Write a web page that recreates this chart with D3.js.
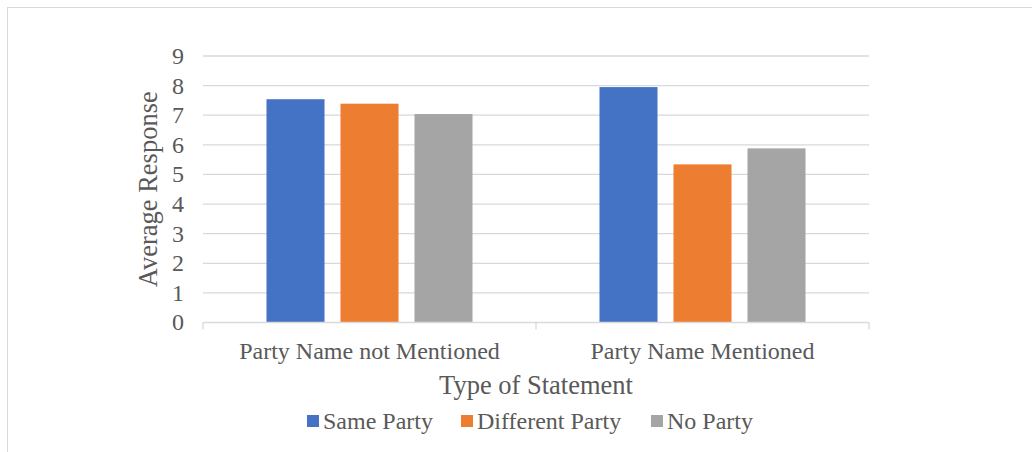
<!DOCTYPE html>
<html>
<head>
<meta charset="utf-8">
<script src="https://cdn.jsdelivr.net/npm/d3@7"></script>
<style>
  body { margin: 0; background: #fff; }
  text { font-family: "Liberation Serif", "Times New Roman", serif; fill: #595959; }
</style>
</head>
<body>
<svg id="chart" width="1032" height="452"></svg>
<script>
const categories = ['Party Name not Mentioned', 'Party Name Mentioned']
const seriesNames = ['Same Party', 'Different Party', 'No Party']
const sameParty = [7.54, 7.95]
const differentParty = [7.39, 5.34]
const noParty = [7.04, 5.88]
const yTicks = [0, 1, 2, 3, 4, 5, 6, 7, 8, 9]

const colors = ['#4472c4', '#ed7d31', '#a5a5a5']
const seriesValues = [sameParty, differentParty, noParty]

const svg = d3.select('#chart')

// outer chart frame
svg.append('rect')
    .attr('x', 7.5).attr('y', 7.5)
    .attr('width', 1040).attr('height', 460)
    .attr('fill', 'none')
    .attr('stroke', '#d9d9d9')

const plotLeft = 203, plotRight = 869, plotTop = 56, plotBottom = 322.5

const x0 = d3.scaleBand().domain(categories).range([plotLeft, plotRight])
const x1 = d3.scaleBand().domain(seriesNames)
    .range([0, x0.bandwidth()])
    .paddingInner(0.216).paddingOuter(0.858)
const y = d3.scaleLinear().domain([0, 9]).range([plotBottom, plotTop])

// gridlines
svg.append('g').selectAll('line')
    .data(yTicks.slice(1))
    .enter().append('line')
    .attr('x1', plotLeft).attr('x2', plotRight)
    .attr('y1', d => y(d)).attr('y2', d => y(d))
    .attr('stroke', '#d9d9d9')
    .attr('stroke-width', 1.3)

// y tick labels
svg.append('g').selectAll('text')
    .data(yTicks)
    .enter().append('text')
    .attr('x', 184)
    .attr('y', d => y(d))
    .attr('dy', '0.33em')
    .attr('text-anchor', 'end')
    .style('font-size', '24px')
    .text(d => d)

// bars
const groups = svg.append('g').selectAll('g')
    .data(categories)
    .enter().append('g')
    .attr('transform', d => `translate(${x0(d)},0)`)

groups.selectAll('rect')
    .data((c, i) => seriesNames.map((s, k) => ({ s, k, v: seriesValues[k][i] })))
    .enter().append('rect')
    .attr('x', d => x1(d.s))
    .attr('width', x1.bandwidth())
    .attr('y', d => y(d.v))
    .attr('height', d => plotBottom - y(d.v))
    .attr('fill', d => colors[d.k])

// x axis
const xAxis = d3.axisBottom(x0).tickSize(0).tickFormat('')
const axisG = svg.append('g')
    .attr('transform', `translate(0,${plotBottom})`)
    .call(xAxis)
axisG.select('.domain').remove()
axisG.append('line')
    .attr('x1', plotLeft).attr('x2', plotRight)
    .attr('stroke', '#d9d9d9').attr('stroke-width', 1.3)
axisG.selectAll('line.sep')
    .data([plotLeft, plotLeft + x0.bandwidth(), plotRight])
    .enter().append('line')
    .attr('class', 'sep')
    .attr('x1', d => d).attr('x2', d => d)
    .attr('y1', 0).attr('y2', 7)
    .attr('stroke', '#d9d9d9').attr('stroke-width', 1.3)

svg.append('g').selectAll('text')
    .data(categories)
    .enter().append('text')
    .attr('x', d => x0(d) + x0.bandwidth() / 2)
    .attr('y', 359)
    .attr('text-anchor', 'middle')
    .style('font-size', '24px')
    .text(d => d)

// axis titles
svg.append('text')
    .attr('transform', `translate(157,${(plotTop + plotBottom) / 2}) rotate(-90)`)
    .attr('text-anchor', 'middle')
    .style('font-size', '26.5px')
    .text('Average Response')

svg.append('text')
    .attr('x', (plotLeft + plotRight) / 2)
    .attr('y', 394)
    .attr('text-anchor', 'middle')
    .style('font-size', '26.5px')
    .text('Type of Statement')

// legend
const legendItems = [
  { name: seriesNames[0], x: 307 },
  { name: seriesNames[1], x: 461 },
  { name: seriesNames[2], x: 651 }
]
const legend = svg.append('g').selectAll('g')
    .data(legendItems)
    .enter().append('g')
    .attr('transform', d => `translate(${d.x},421)`)
legend.append('rect')
    .attr('x', 0).attr('y', -6)
    .attr('width', 12).attr('height', 12)
    .attr('fill', (d, i) => colors[i])
legend.append('text')
    .attr('x', 16)
    .attr('dy', '0.33em')
    .style('font-size', '24px')
    .text(d => d.name)
</script>
</body>
</html>
